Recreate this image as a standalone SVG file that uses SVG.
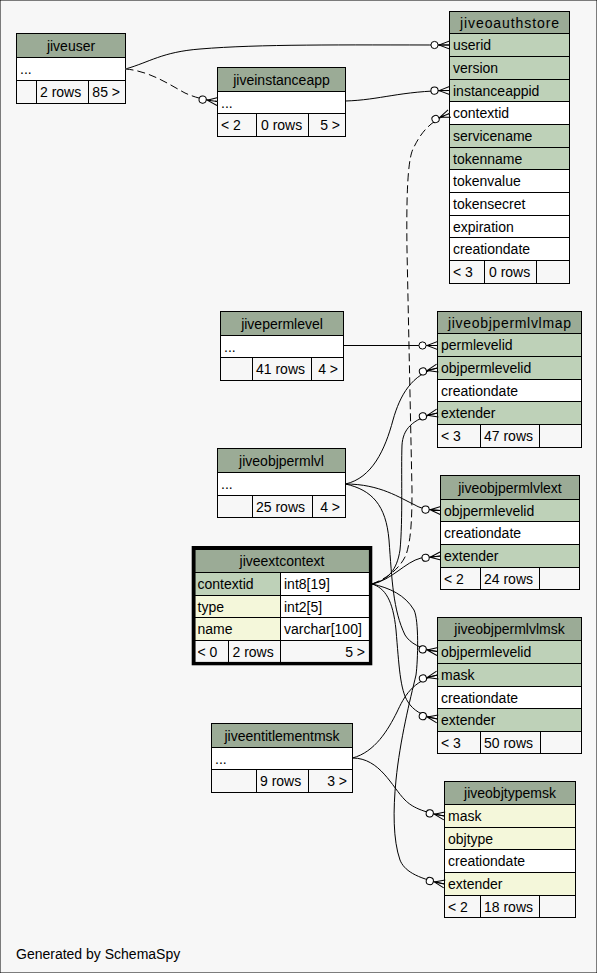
<svg xmlns="http://www.w3.org/2000/svg" width="597" height="973" viewBox="0 0 597 973">
<style>
text{font-family:"Liberation Sans",Arial,Helvetica,sans-serif;font-size:14px;fill:#000}
.c{text-anchor:middle}
.r{text-anchor:end}
rect,line{stroke:#000;stroke-width:1}
.hdr{fill:#9bab96}
.pk{fill:#bed1b8}
.idx{fill:#f4f7da}
.pl{fill:#ffffff}
.ft{fill:#f7f7f7}
.thick{fill:none;stroke:#000;stroke-width:3.4}
.e{fill:none;stroke:#000;stroke-width:1;marker-end:url(#crow)}
.d{stroke-dasharray:8 4}
.u{fill:none;stroke:#fff;stroke-width:1}
</style>
<defs>
<marker id="crow" viewBox="-20 -6 21 12" refX="0" refY="0" markerWidth="21" markerHeight="12" markerUnits="userSpaceOnUse" orient="auto">
<path d="M-11.4,0 L0,0 M-10.5,0 L0,-4 M-10.5,0 L0,4" fill="none" stroke="#000" stroke-width="1"/>
<circle cx="-15" cy="0" r="3.6" fill="#fff" stroke="#000" stroke-width="1"/>
</marker>
</defs>
<rect x="0" y="0" width="597" height="973" fill="#f7f7f7" stroke="none"/>

<g id="jiveuser">
<rect class="hdr" x="16.5" y="33.5" width="109" height="24"/>
<rect class="pl" x="16.5" y="57.5" width="109" height="23"/>
<rect class="ft" x="16.5" y="80.5" width="109" height="23"/>
<line x1="36.5" y1="80.5" x2="36.5" y2="103.5"/><line x1="88.5" y1="80.5" x2="88.5" y2="103.5"/>
<text class="c" x="71" y="50.5">jiveuser</text>
<text x="20" y="74">...</text>
<text x="40" y="97">2 rows</text><text class="r" x="120" y="97">85 &gt;</text>
</g>

<g id="jiveinstanceapp">
<rect class="hdr" x="217.5" y="67.5" width="128" height="24"/>
<rect class="pl" x="217.5" y="91.5" width="128" height="22"/>
<rect class="ft" x="217.5" y="113.5" width="128" height="23"/>
<line x1="256.5" y1="113.5" x2="256.5" y2="136.5"/><line x1="308.5" y1="113.5" x2="308.5" y2="136.5"/>
<text class="c" x="281.5" y="84.5">jiveinstanceapp</text>
<text x="221" y="107.5">...</text>
<text x="221" y="130">&lt; 2</text><text x="261" y="130">0 rows</text><text class="r" x="340" y="130">5 &gt;</text>
</g>

<g id="jiveoauthstore">
<rect class="hdr" x="449.5" y="11.5" width="120" height="22"/>
<rect class="pk" x="449.5" y="33.5" width="120" height="23"/>
<rect class="pk" x="449.5" y="56.5" width="120" height="23"/>
<rect class="pk" x="449.5" y="79.5" width="120" height="22"/>
<rect class="pl" x="449.5" y="101.5" width="120" height="23"/>
<rect class="pk" x="449.5" y="124.5" width="120" height="23"/>
<rect class="pk" x="449.5" y="147.5" width="120" height="22"/>
<rect class="pl" x="449.5" y="169.5" width="120" height="23"/>
<rect class="pl" x="449.5" y="192.5" width="120" height="23"/>
<rect class="pl" x="449.5" y="215.5" width="120" height="22"/>
<rect class="pl" x="449.5" y="237.5" width="120" height="23"/>
<rect class="ft" x="449.5" y="260.5" width="120" height="23"/>
<line x1="484.5" y1="260.5" x2="484.5" y2="283.5"/><line x1="536.5" y1="260.5" x2="536.5" y2="283.5"/>
<text class="c" x="509.5" y="27.5" textLength="99" lengthAdjust="spacing">jiveoauthstore</text>
<text x="453" y="50">userid</text>
<text x="453" y="73">version</text>
<text x="453" y="95.5">instanceappid</text>
<text x="453" y="118">contextid</text>
<text x="453" y="141">servicename</text>
<text x="453" y="163.5">tokenname</text>
<text x="453" y="186">tokenvalue</text>
<text x="453" y="209">tokensecret</text>
<text x="453" y="231.5">expiration</text>
<text x="453" y="254">creationdate</text>
<text x="453" y="277">&lt; 3</text><text x="489" y="277">0 rows</text>
</g>

<g id="jivepermlevel">
<rect class="hdr" x="220.5" y="311.5" width="123" height="24"/>
<rect class="pl" x="220.5" y="335.5" width="123" height="22"/>
<rect class="ft" x="220.5" y="357.5" width="123" height="23"/>
<line x1="252.5" y1="357.5" x2="252.5" y2="380.5"/><line x1="311.5" y1="357.5" x2="311.5" y2="380.5"/>
<text class="c" x="282" y="328.5">jivepermlevel</text>
<text x="224" y="351.5">...</text>
<text x="256" y="374">41 rows</text><text class="r" x="338" y="374">4 &gt;</text>
</g>

<g id="jiveobjpermlvlmap">
<rect class="hdr" x="437.5" y="311.5" width="144" height="22"/>
<rect class="pk" x="437.5" y="333.5" width="144" height="23"/>
<rect class="pk" x="437.5" y="356.5" width="144" height="23"/>
<rect class="pl" x="437.5" y="379.5" width="144" height="22"/>
<rect class="pk" x="437.5" y="401.5" width="144" height="23"/>
<rect class="ft" x="437.5" y="424.5" width="144" height="23"/>
<line x1="480.5" y1="424.5" x2="480.5" y2="447.5"/><line x1="539.5" y1="424.5" x2="539.5" y2="447.5"/>
<text class="c" x="509.5" y="327.5" textLength="123" lengthAdjust="spacing">jiveobjpermlvlmap</text>
<text x="441" y="350">permlevelid</text>
<text x="441" y="373">objpermlevelid</text>
<text x="441" y="395.5">creationdate</text>
<text x="441" y="418">extender</text>
<text x="441" y="441">&lt; 3</text><text x="484" y="441">47 rows</text>
</g>

<g id="jiveobjpermlvl">
<rect class="hdr" x="217.5" y="448.5" width="128" height="24"/>
<rect class="pl" x="217.5" y="472.5" width="128" height="23"/>
<rect class="ft" x="217.5" y="495.5" width="128" height="22"/>
<line x1="252.5" y1="495.5" x2="252.5" y2="517.5"/><line x1="312.5" y1="495.5" x2="312.5" y2="517.5"/>
<text class="c" x="281.5" y="465.5">jiveobjpermlvl</text>
<text x="221" y="489">...</text>
<text x="256" y="511.5">25 rows</text><text class="r" x="340" y="511.5">4 &gt;</text>
</g>

<g id="jiveobjpermlvlext">
<rect class="hdr" x="440.5" y="475.5" width="139" height="24"/>
<rect class="pk" x="440.5" y="499.5" width="139" height="22"/>
<rect class="pl" x="440.5" y="521.5" width="139" height="23"/>
<rect class="pk" x="440.5" y="544.5" width="139" height="23"/>
<rect class="ft" x="440.5" y="567.5" width="139" height="22"/>
<line x1="480.5" y1="567.5" x2="480.5" y2="589.5"/><line x1="539.5" y1="567.5" x2="539.5" y2="589.5"/>
<text class="c" x="510" y="492.5">jiveobjpermlvlext</text>
<text x="444" y="515.5">objpermlevelid</text>
<text x="444" y="538">creationdate</text>
<text x="444" y="561">extender</text>
<text x="444" y="583.5">&lt; 2</text><text x="484" y="583.5">24 rows</text>
</g>

<g id="jiveextcontext">
<rect class="hdr" x="195" y="549.5" width="175.5" height="23"/>
<rect class="pk" x="195" y="572.5" width="85.5" height="23"/>
<rect class="pl" x="280.5" y="572.5" width="90" height="23"/>
<rect class="idx" x="195" y="595.5" width="85.5" height="22"/>
<rect class="pl" x="280.5" y="595.5" width="90" height="22"/>
<rect class="idx" x="195" y="617.5" width="85.5" height="23"/>
<rect class="pl" x="280.5" y="617.5" width="90" height="23"/>
<rect class="ft" x="195" y="640.5" width="175.5" height="22.5"/>
<line x1="228.5" y1="640.5" x2="228.5" y2="663"/><line x1="280.5" y1="640.5" x2="280.5" y2="663"/>
<rect class="thick" x="193.4" y="547.7" width="177.2" height="115.9"/>
<text class="c" x="282" y="566">jiveextcontext</text>
<text x="197.5" y="589">contextid</text><text x="284" y="589">int8[19]</text>
<text x="197.5" y="611.5">type</text><text x="284" y="611.5">int2[5]</text>
<text x="197.5" y="634">name</text><text x="284" y="634">varchar[100]</text>
<text x="197.5" y="656.5">&lt; 0</text><text x="232.5" y="656.5">2 rows</text><text class="r" x="365" y="656.5">5 &gt;</text>
</g>

<g id="jiveobjpermlvlmsk">
<rect class="hdr" x="437.5" y="617.5" width="144" height="23"/>
<rect class="pk" x="437.5" y="640.5" width="144" height="23"/>
<rect class="pk" x="437.5" y="663.5" width="144" height="23"/>
<rect class="pl" x="437.5" y="686.5" width="144" height="22"/>
<rect class="pk" x="437.5" y="708.5" width="144" height="23"/>
<rect class="ft" x="437.5" y="731.5" width="144" height="22"/>
<line x1="480.5" y1="731.5" x2="480.5" y2="753.5"/><line x1="540.5" y1="731.5" x2="540.5" y2="753.5"/>
<text class="c" x="509.5" y="634">jiveobjpermlvlmsk</text>
<text x="441" y="657">objpermlevelid</text>
<text x="441" y="680">mask</text>
<text x="441" y="702.5">creationdate</text>
<text x="441" y="725">extender</text>
<text x="441" y="747.5">&lt; 3</text><text x="484" y="747.5">50 rows</text>
</g>

<g id="jiveentitlementmsk">
<rect class="hdr" x="211.5" y="723.5" width="141" height="24"/>
<rect class="pl" x="211.5" y="747.5" width="141" height="22"/>
<rect class="ft" x="211.5" y="769.5" width="141" height="23"/>
<line x1="256.5" y1="769.5" x2="256.5" y2="792.5"/><line x1="308.5" y1="769.5" x2="308.5" y2="792.5"/>
<text class="c" x="282" y="740.5">jiveentitlementmsk</text>
<text x="215" y="763.5">...</text>
<text x="260" y="786">9 rows</text><text class="r" x="347" y="786">3 &gt;</text>
</g>

<g id="jiveobjtypemsk">
<rect class="hdr" x="444.5" y="781.5" width="131" height="23"/>
<rect class="idx" x="444.5" y="804.5" width="131" height="23"/>
<rect class="idx" x="444.5" y="827.5" width="131" height="22"/>
<rect class="pl" x="444.5" y="849.5" width="131" height="23"/>
<rect class="idx" x="444.5" y="872.5" width="131" height="23"/>
<rect class="ft" x="444.5" y="895.5" width="131" height="22"/>
<line x1="480.5" y1="895.5" x2="480.5" y2="917.5"/><line x1="539.5" y1="895.5" x2="539.5" y2="917.5"/>
<text class="c" x="510" y="798">jiveobjtypemsk</text>
<text x="448" y="821">mask</text>
<text x="448" y="843.5">objtype</text>
<text x="448" y="866">creationdate</text>
<text x="448" y="889">extender</text>
<text x="448" y="911.5">&lt; 2</text><text x="484" y="911.5">18 rows</text>
</g>

<g id="connectors">
<path class="e" d="M125.5,69 C150,62 162,52 200,49 C260,44 340,45 449.5,45"/>
<path class="u" d="M125.5,69 C150,71 170,85 185,93 C196,98 206,100 217.5,101.5"/>
<path class="e d" d="M125.5,69 C150,71 170,85 185,93 C196,98 206,100 217.5,101.5"/>
<path class="e" d="M345.5,101 C380,100 400,91 449.5,90.5"/>
<path class="u" d="M372,584 C388,578 400,568 406,555 C411,540 412,520 412,490 L407,250 C406,180 409,155 414,147 C420,135 428,122 449.5,113.5"/>
<path class="e d" d="M372,584 C388,578 400,568 406,555 C411,540 412,520 412,490 L407,250 C406,180 409,155 414,147 C420,135 428,122 449.5,113.5"/>
<path class="e" d="M343.5,345.5 L437.5,345.5"/>
<path class="e" d="M345.5,484 C372,478 385,450 393,420 C400,395 412,374 437.5,368"/>
<path class="e" d="M372,584 C388,580 397,570 400,550 C403,520 401,470 402,445 C403,430 411,419 437.5,413"/>
<path class="e" d="M345.5,484 C380,484 400,498 415,505 C420,508 425,509.5 440.5,510.5"/>
<path class="e" d="M372,584 C392,580 405,562 421,558 C426,557.5 432,557 440.5,556"/>
<path class="e" d="M345.5,484 C372,490 386,505 389,540 C392,580 393,610 405,635 C410,643 420,649 437.5,651.5"/>
<path class="e" d="M352.5,758 C375,752 388,730 397,712 C404,697 412,681 437.5,675"/>
<path class="e" d="M372,584 C385,588 393,600 396,630 C399,665 400,690 408,702 C413,710 422,716 437.5,719"/>
<path class="e" d="M352.5,758 C380,758 392,787 405,800 C412,807 422,812 444.5,816"/>
<path class="e" d="M372,584 C390,588 405,595 414,610 C419,620 418,660 416,675 C410,700 400,740 396,780 C393,810 393,840 400,860 C404,870 415,878 444.5,884"/>
</g>

<text x="16" y="959">Generated by SchemaSpy</text>
</svg>
